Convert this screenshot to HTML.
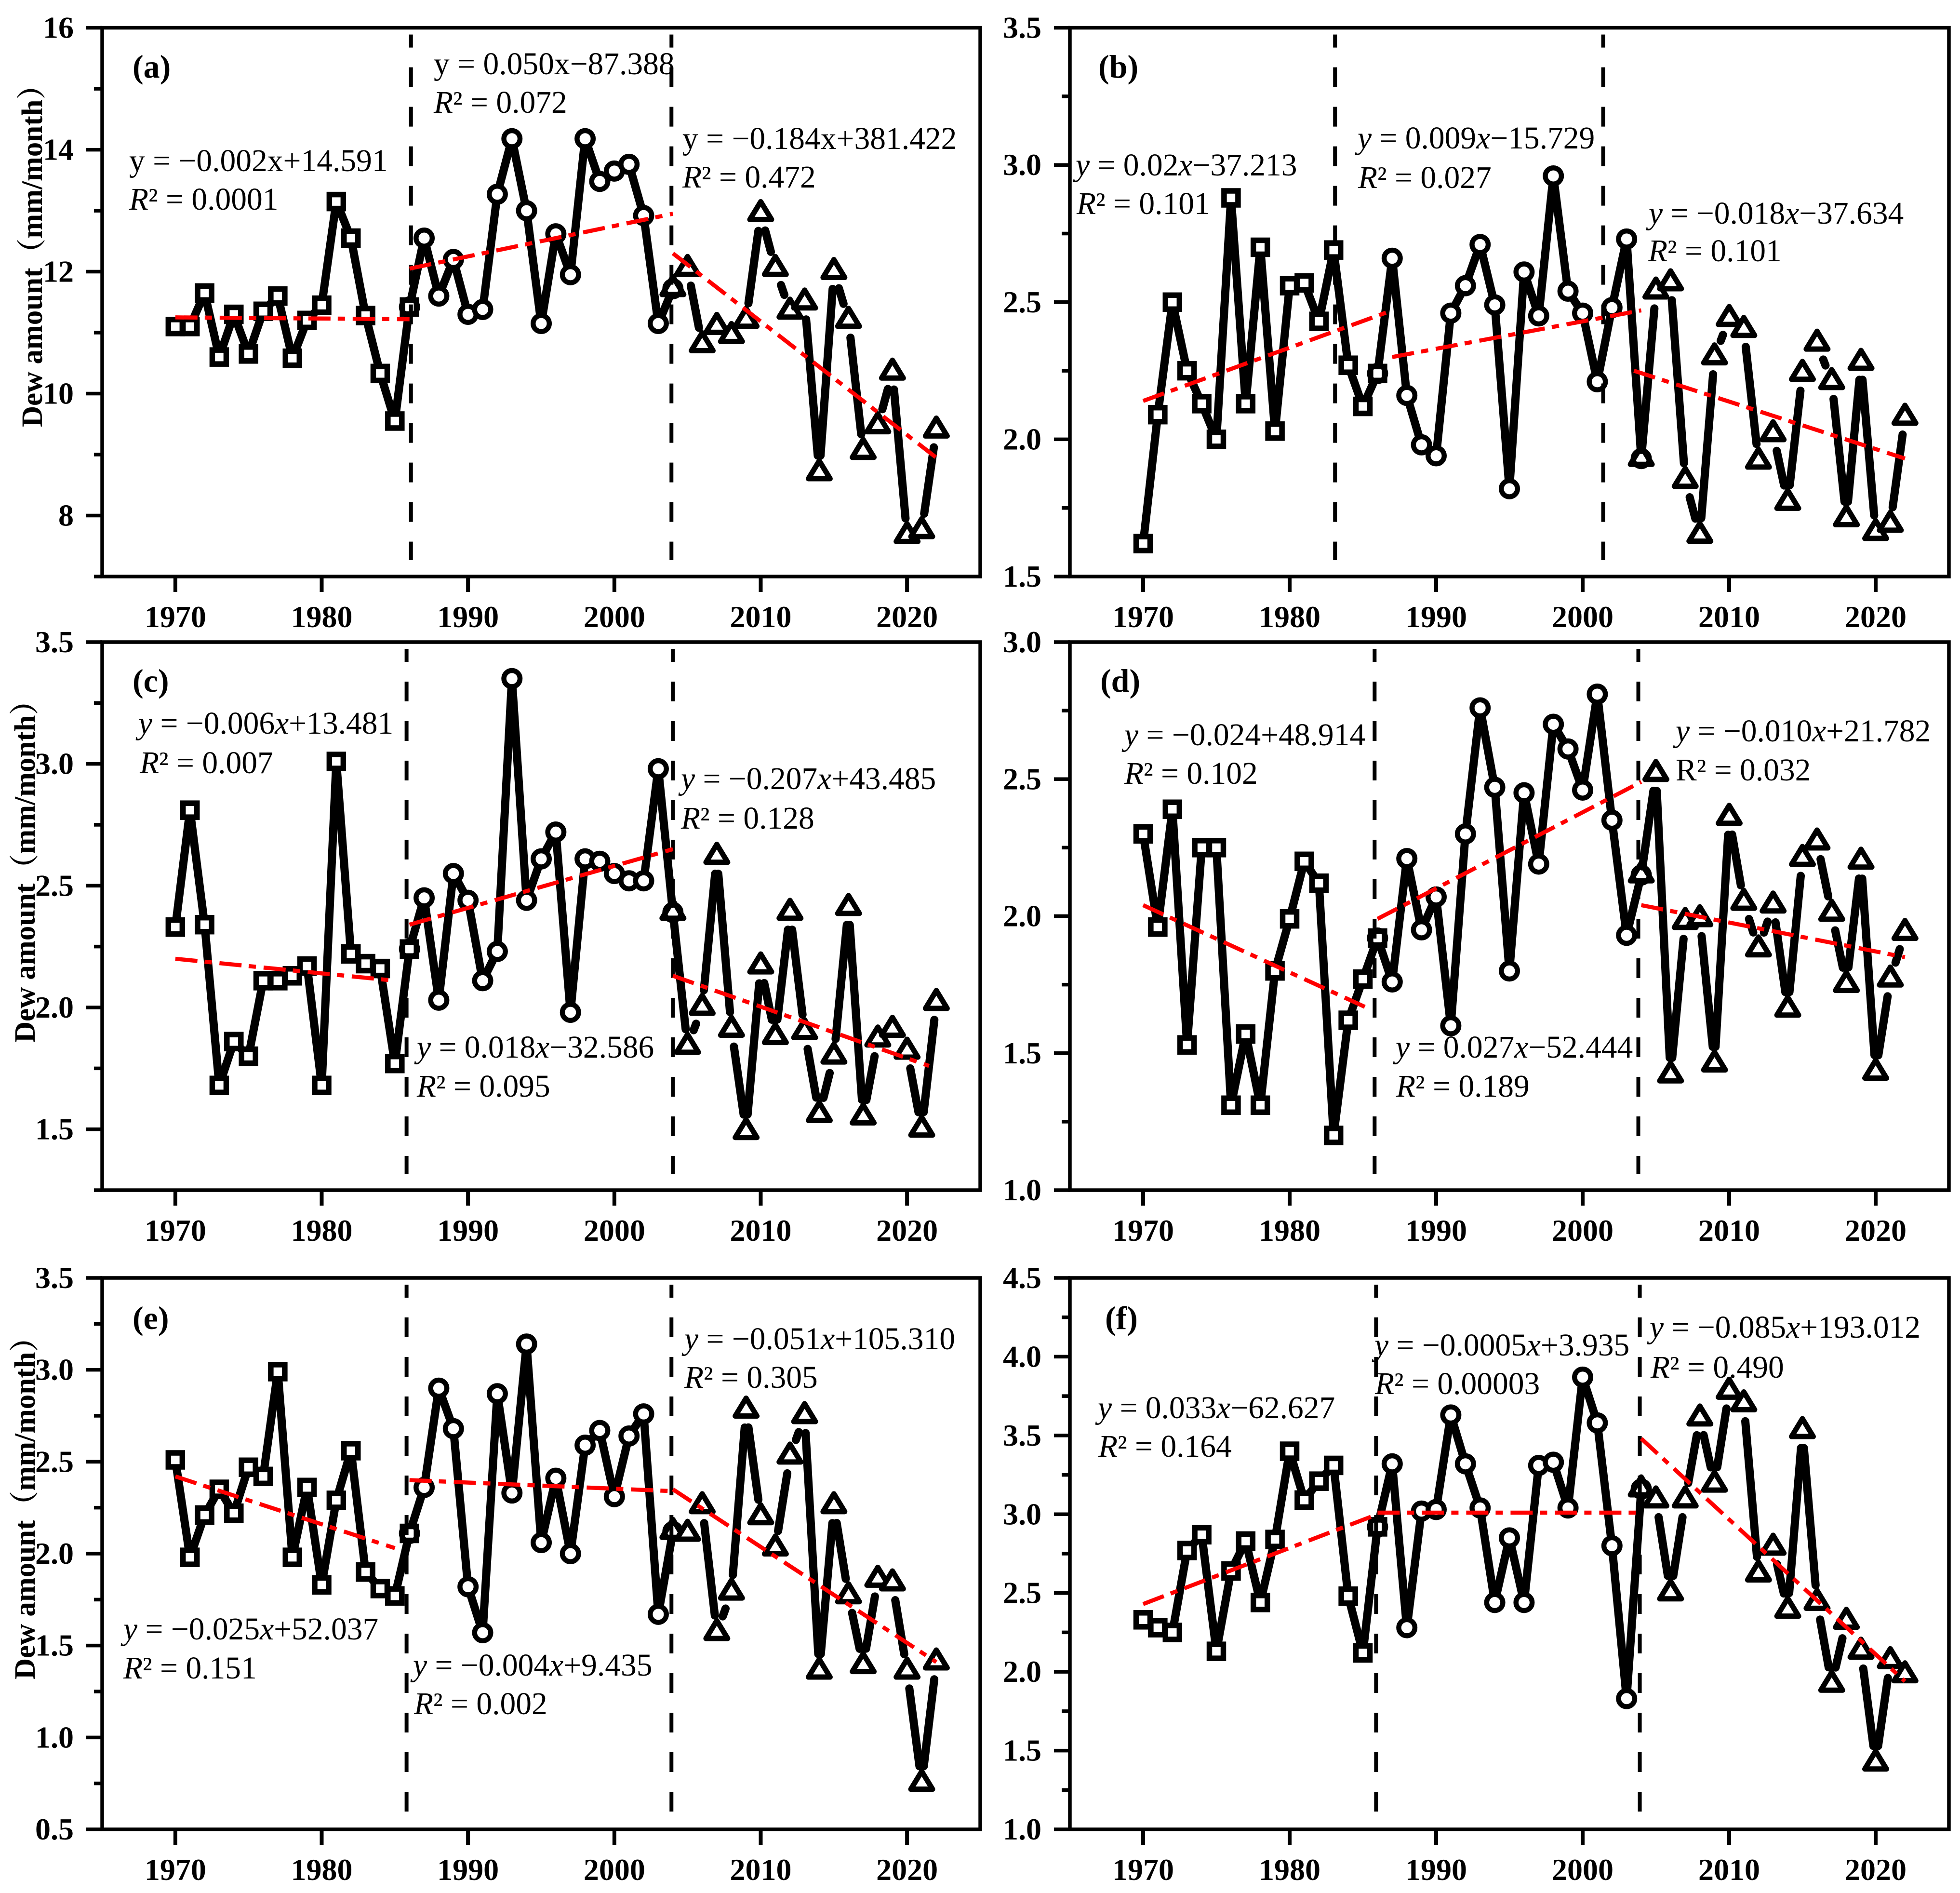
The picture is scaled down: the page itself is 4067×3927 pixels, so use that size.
<!DOCTYPE html>
<html lang="en">
<head>
<meta charset="utf-8">
<title>Dew amount trends</title>
<style>
html,body{margin:0;padding:0;background:#fff;}
svg{display:block;}
text{font-family:"Liberation Serif","Noto Serif CJK SC",serif;fill:#000;}
.eq{font-size:65.5px;}
.eq .i{font-style:italic;}
.pl{font-size:68px;font-weight:bold;}
.yt{font-size:61px;font-weight:bold;}
.tk{font-size:64px;font-weight:bold;}
</style>
</head>
<body>
<svg id="chart" xmlns="http://www.w3.org/2000/svg" width="4067" height="3927" viewBox="0 0 4067 3927">
<rect x="0" y="0" width="4067" height="3927" fill="#fff"/>

<g id="panel-a">
<text class="yt" transform="translate(87,886) rotate(-90)">Dew amount（mm/month）</text>
<text class="pl" x="275" y="161">(a)</text>
<text class="eq" x="268" y="355">y = −0.002x+14.591</text>
<text class="eq" x="268" y="435"><tspan class="i">R</tspan>² = 0.0001</text>
<text class="eq" x="900" y="154">y = 0.050x−87.388</text>
<text class="eq" x="900" y="234"><tspan class="i">R</tspan>² = 0.072</text>
<text class="eq" x="1416" y="309">y = −0.184x+381.422</text>
<text class="eq" x="1416" y="389"><tspan class="i">R</tspan>² = 0.472</text>
</g>

<g id="panel-b">
<text class="pl" x="2279" y="161">(b)</text>
<text class="eq" x="2232" y="364"><tspan class="i">y</tspan> = 0.02<tspan class="i">x</tspan>−37.213</text>
<text class="eq" x="2234" y="444"><tspan class="i">R</tspan>² = 0.101</text>
<text class="eq" x="2817" y="308"><tspan class="i">y</tspan> = 0.009<tspan class="i">x</tspan>−15.729</text>
<text class="eq" x="2818" y="390"><tspan class="i">R</tspan>² = 0.027</text>
<text class="eq" x="3421" y="464"><tspan class="i">y</tspan> = −0.018<tspan class="i">x</tspan>−37.634</text>
<text class="eq" x="3420" y="542"><tspan class="i">R</tspan>² = 0.101</text>
</g>

<g id="panel-c">
<text class="yt" transform="translate(72,2163) rotate(-90)">Dew amount（mm/month）</text>
<text class="pl" x="275" y="1435">(c)</text>
<text class="eq" x="287" y="1522"><tspan class="i">y</tspan> = −0.006<tspan class="i">x</tspan>+13.481</text>
<text class="eq" x="290" y="1604"><tspan class="i">R</tspan>² = 0.007</text>
<text class="eq" x="865" y="2194"><tspan class="i">y</tspan> = 0.018<tspan class="i">x</tspan>−32.586</text>
<text class="eq" x="865" y="2275"><tspan class="i">R</tspan>² = 0.095</text>
<text class="eq" x="1413" y="1637"><tspan class="i">y</tspan> = −0.207<tspan class="i">x</tspan>+43.485</text>
<text class="eq" x="1413" y="1719"><tspan class="i">R</tspan>² = 0.128</text>
</g>

<g id="panel-d">
<text class="pl" x="2283" y="1435">(d)</text>
<text class="eq" x="2333" y="1546"><tspan class="i">y</tspan> = −0.024+48.914</text>
<text class="eq" x="2333" y="1626"><tspan class="i">R</tspan>² = 0.102</text>
<text class="eq" x="2896" y="2194"><tspan class="i">y</tspan> = 0.027<tspan class="i">x</tspan>−52.444</text>
<text class="eq" x="2897" y="2275"><tspan class="i">R</tspan>² = 0.189</text>
<text class="eq" x="3477" y="1538"><tspan class="i">y</tspan> = −0.010<tspan class="i">x</tspan>+21.782</text>
<text class="eq" x="3477" y="1619">R² = 0.032</text>
</g>

<g id="panel-e">
<text class="yt" transform="translate(72,3484) rotate(-90)">Dew amount（mm/month）</text>
<text class="pl" x="275" y="2757">(e)</text>
<text class="eq" x="1420" y="2799"><tspan class="i">y</tspan> = −0.051<tspan class="i">x</tspan>+105.310</text>
<text class="eq" x="1420" y="2879"><tspan class="i">R</tspan>² = 0.305</text>
<text class="eq" x="256" y="3401"><tspan class="i">y</tspan> = −0.025<tspan class="i">x</tspan>+52.037</text>
<text class="eq" x="256" y="3482"><tspan class="i">R</tspan>² = 0.151</text>
<text class="eq" x="857" y="3476"><tspan class="i">y</tspan> = −0.004<tspan class="i">x</tspan>+9.435</text>
<text class="eq" x="859" y="3556"><tspan class="i">R</tspan>² = 0.002</text>
</g>

<g id="panel-f">
<text class="pl" x="2293" y="2757">(f)</text>
<text class="eq" x="2852" y="2812"><tspan class="i">y</tspan> = −0.0005<tspan class="i">x</tspan>+3.935</text>
<text class="eq" x="2853" y="2892"><tspan class="i">R</tspan>² = 0.00003</text>
<text class="eq" x="2278" y="2942"><tspan class="i">y</tspan> = 0.033<tspan class="i">x</tspan>−62.627</text>
<text class="eq" x="2279" y="3022"><tspan class="i">R</tspan>² = 0.164</text>
<text class="eq" x="3423" y="2775"><tspan class="i">y</tspan> = −0.085<tspan class="i">x</tspan>+193.012</text>
<text class="eq" x="3425" y="2858"><tspan class="i">R</tspan>² = 0.490</text>
</g>
</svg>

<script>
const years = [1970,1971,1972,1973,1974,1975,1976,1977,1978,1979,1980,1981,1982,1983,1984,1985,1986,1987,1988,1989,1990,1991,1992,1993,1994,1995,1996,1997,1998,1999,2000,2001,2002,2003,2004,2005,2006,2007,2008,2009,2010,2011,2012,2013,2014,2015,2016,2017,2018,2019,2020,2021,2022];
const xTickLabels = ['1970','1980','1990','2000','2010','2020'];
const squareEndYear = 1986;
const triangleStartYear = 2004;

const valuesA = [11.1,11.1,11.65,10.6,11.3,10.65,11.35,11.6,10.58,11.2,11.45,13.15,12.55,11.28,10.33,9.55,11.42,12.55,11.6,12.2,11.3,11.38,13.27,14.18,13.0,11.15,12.62,11.95,14.18,13.48,13.65,13.76,12.92,11.15,11.72,12.05,10.8,11.1,10.95,11.2,12.95,12.05,11.35,11.5,8.7,12.0,11.2,9.05,9.47,10.35,7.67,7.75,9.4];
const valuesB = [1.62,2.09,2.5,2.25,2.13,2.0,2.88,2.13,2.7,2.03,2.56,2.57,2.43,2.69,2.27,2.12,2.24,2.66,2.16,1.98,1.94,2.46,2.56,2.71,2.49,1.82,2.61,2.45,2.96,2.54,2.46,2.21,2.48,2.73,1.93,2.54,2.57,1.85,1.65,2.3,2.44,2.4,1.92,2.02,1.77,2.24,2.35,2.21,1.71,2.28,1.66,1.69,2.08];
const valuesC = [2.33,2.81,2.34,1.68,1.86,1.8,2.11,2.11,2.13,2.17,1.68,3.01,2.22,2.18,2.16,1.77,2.24,2.45,2.03,2.55,2.44,2.11,2.23,3.35,2.44,2.61,2.72,1.98,2.61,2.6,2.55,2.52,2.52,2.98,2.39,1.84,2.0,2.62,1.91,1.49,2.17,1.88,2.39,1.9,1.56,1.8,2.41,1.55,1.87,1.91,1.82,1.5,2.02];
const valuesD = [2.3,1.96,2.39,1.53,2.25,2.25,1.31,1.57,1.31,1.8,1.99,2.2,2.12,1.2,1.62,1.77,1.92,1.76,2.21,1.95,2.07,1.6,2.3,2.76,2.47,1.8,2.45,2.19,2.7,2.61,2.46,2.81,2.35,1.93,2.15,2.52,1.42,1.98,1.99,1.46,2.36,2.05,1.88,2.04,1.66,2.21,2.27,2.01,1.75,2.2,1.43,1.77,1.94];
const valuesE = [2.51,1.98,2.21,2.35,2.22,2.47,2.42,2.99,1.98,2.36,1.83,2.29,2.56,1.9,1.81,1.77,2.11,2.36,2.9,2.68,1.82,1.57,2.87,2.33,3.14,2.06,2.41,2.0,2.59,2.67,2.31,2.64,2.76,1.67,2.12,2.11,2.26,1.57,1.79,2.78,2.2,2.03,2.53,2.75,1.36,2.26,1.77,1.39,1.86,1.84,1.36,0.75,1.41];
const valuesF = [2.33,2.28,2.25,2.77,2.87,2.13,2.64,2.83,2.44,2.84,3.4,3.09,3.21,3.31,2.48,2.12,2.92,3.32,2.28,3.02,3.03,3.63,3.32,3.04,2.44,2.85,2.44,3.31,3.33,3.04,3.87,3.58,2.8,1.83,3.16,3.09,2.5,3.09,3.61,3.19,3.78,3.7,2.62,2.79,2.39,3.53,2.44,1.92,2.32,2.13,1.42,2.07,1.98];

const trendA = [[1970,11.25,1986,11.22],[1986,12.05,2004,12.95],[2004,12.3,2022,8.95]];
const trendB = [[1970,2.14,1987,2.47],[1987,2.3,2004,2.47],[2003.5,2.25,2022,1.93]];
const trendC = [[1970,2.2,1985,2.11],[1986,2.34,2004,2.65],[2004,2.13,2021.5,1.76]];
const trendD = [[1970,2.04,1985.5,1.66],[1986,1.99,2004,2.49],[2004,2.04,2022,1.85]];
const trendE = [[1970,2.42,1985,2.03],[1986,2.4,2004,2.34],[2004,2.35,2022,1.41]];
const trendF = [[1970,2.43,1986,3.0],[1986,3.01,2004,3.01],[2004,3.48,2022,1.94]];

const breaksA = [1986.1,2003.9];
const breaksB = [1983.1,2001.4];
const breaksC = [1985.8,2004.0];
const breaksD = [1985.8,2003.8];
const breaksE = [1985.8,2003.9];
const breaksF = [1985.9,2003.9];

const yMajorA = ['8','10','12','14','16'];
const yMinorA = [7,9,11,13,15];
const yMajorB = ['1.5','2.0','2.5','3.0','3.5'];
const yMinorB = [1.75,2.25,2.75,3.25];
const yMajorC = ['1.5','2.0','2.5','3.0','3.5'];
const yMinorC = [1.25,1.75,2.25,2.75,3.25];
const yMajorD = ['1.0','1.5','2.0','2.5','3.0'];
const yMinorD = [1.25,1.75,2.25,2.75];
const yMajorE = ['0.5','1.0','1.5','2.0','2.5','3.0','3.5'];
const yMinorE = [0.75,1.25,1.75,2.25,2.75,3.25];
const yMajorF = ['1.0','1.5','2.0','2.5','3.0','3.5','4.0','4.5'];
const yMinorF = [1.25,1.75,2.25,2.75,3.25,3.75,4.25];

const NS = 'http://www.w3.org/2000/svg';
const xDomain = [1965,2025];

function make(tag, attrs, parent) {
  const el = document.createElementNS(NS, tag);
  for (const k in attrs) el.setAttribute(k, attrs[k]);
  parent.appendChild(el);
  return el;
}

function drawPanel(id, box, yDomain, values, trend, breaks, yMajor, yMinor) {
  const g = document.getElementById('panel-' + id);
  const xs = v => box.left + (v - xDomain[0]) / (xDomain[1] - xDomain[0]) * (box.right - box.left);
  const ys = v => box.top + (yDomain[1] - v) / (yDomain[1] - yDomain[0]) * (box.bottom - box.top);

  // data line with gaps around the markers
  const seriesG = make('g', {}, g);
  
  
  const gapFor = yr => yr > triangleStartYear ? 36 : 18;
  for (let i = 0; i < years.length - 1; i++) {
    const x1 = xs(years[i]), y1 = ys(values[i]), x2 = xs(years[i + 1]), y2 = ys(values[i + 1]);
    const len = Math.hypot(x2 - x1, y2 - y1);
    const g1 = gapFor(years[i]), g2 = gapFor(years[i + 1]);
    if (len <= g1 + g2) continue;
    const ux = (x2 - x1) / len, uy = (y2 - y1) / len;
    const seg = make('line', {x1: x1 + ux * g1, y1: y1 + uy * g1, x2: x2 - ux * g2, y2: y2 - uy * g2, stroke: '#000', 'stroke-width': 17, 'stroke-linecap': 'round'}, seriesG);
    
    
  }

  // markers
  years.forEach((yr, i) => {
    const cx = xs(yr), cy = ys(values[i]);
    if (yr <= squareEndYear) {
      const sq = make('rect', {x: cx - 14.5, y: cy - 14.5, width: 29, height: 29, fill: '#fff', stroke: '#000', 'stroke-width': 11.5}, g);
      
      
    }
    if (yr >= squareEndYear && yr <= triangleStartYear) {
      const ci = make('circle', {cx: cx, cy: cy, r: 16.75, fill: yr === squareEndYear || yr === triangleStartYear ? 'none' : '#fff', stroke: '#000', 'stroke-width': 10.5}, g);
      
      
    }
    if (yr >= triangleStartYear) {
      const pts = [cx, cy - 25, cx + 22.5, cy + 12, cx - 22.5, cy + 12].join(' ');
      const tr = make('polygon', {points: pts, fill: yr === triangleStartYear ? 'none' : '#fff', stroke: '#000', 'stroke-width': 11, 'stroke-linejoin': 'round'}, g);
      
      
    }
  });

  // breakpoint dashed lines
  breaks.forEach((b, i) => {
    const bl = make('line', {x1: xs(b), x2: xs(b), y1: box.top + 14, y2: box.bottom - 34, stroke: '#000', 'stroke-width': 8, 'stroke-dasharray': '41 41', 'stroke-dashoffset': 14}, g);
    
    
  });

  // trend lines
  trend.forEach((t, i) => {
    const tl = make('line', {x1: xs(t[0]), y1: ys(t[1]), x2: xs(t[2]), y2: ys(t[3]), stroke: '#f00', 'stroke-width': 8.5, 'stroke-dasharray': '46 15 15 16'}, g);
    
    
  });

  // frame
  const frame = make('rect', {x: box.left, y: box.top, width: box.right - box.left, height: box.bottom - box.top, fill: 'none', stroke: '#000', 'stroke-width': 7.5}, g);
  
  

  // y ticks
  yMajor.forEach(lbl => {
    const v = parseFloat(lbl);
    const tick = make('line', {x1: box.left - 33, x2: box.left, y1: ys(v), y2: ys(v), stroke: '#000', 'stroke-width': 7.5}, g);
    
    
    const tx = make('text', {x: box.left - 59, y: ys(v) + 21, 'text-anchor': 'end', class: 'tk'}, g);
    tx.textContent = lbl;
    
    
  });
  yMinor.forEach(v => {
    const tick = make('line', {x1: box.left - 17, x2: box.left, y1: ys(v), y2: ys(v), stroke: '#000', 'stroke-width': 7.5}, g);
    
    
  });

  // x ticks
  xTickLabels.forEach(lbl => {
    const v = parseFloat(lbl);
    const tick = make('line', {x1: xs(v), x2: xs(v), y1: box.bottom, y2: box.bottom + 32, stroke: '#000', 'stroke-width': 8}, g);
    
    
    const tx = make('text', {x: xs(v), y: box.bottom + 105, 'text-anchor': 'middle', class: 'tk'}, g);
    tx.textContent = lbl;
    
    
  });
}

drawPanel('a', {left: 212, right: 2034, top: 57.6, bottom: 1196}, [7, 16], valuesA, trendA, breaksA, yMajorA, yMinorA);
drawPanel('b', {left: 2220, right: 4044, top: 57.6, bottom: 1196}, [1.5, 3.5], valuesB, trendB, breaksB, yMajorB, yMinorB);
drawPanel('c', {left: 212, right: 2034, top: 1332, bottom: 2469}, [1.25, 3.5], valuesC, trendC, breaksC, yMajorC, yMinorC);
drawPanel('d', {left: 2220, right: 4044, top: 1332, bottom: 2469}, [1, 3], valuesD, trendD, breaksD, yMajorD, yMinorD);
drawPanel('e', {left: 212, right: 2034, top: 2651, bottom: 3795}, [0.5, 3.5], valuesE, trendE, breaksE, yMajorE, yMinorE);
drawPanel('f', {left: 2220, right: 4044, top: 2651, bottom: 3795}, [1, 4.5], valuesF, trendF, breaksF, yMajorF, yMinorF);
</script>
</body>
</html>
